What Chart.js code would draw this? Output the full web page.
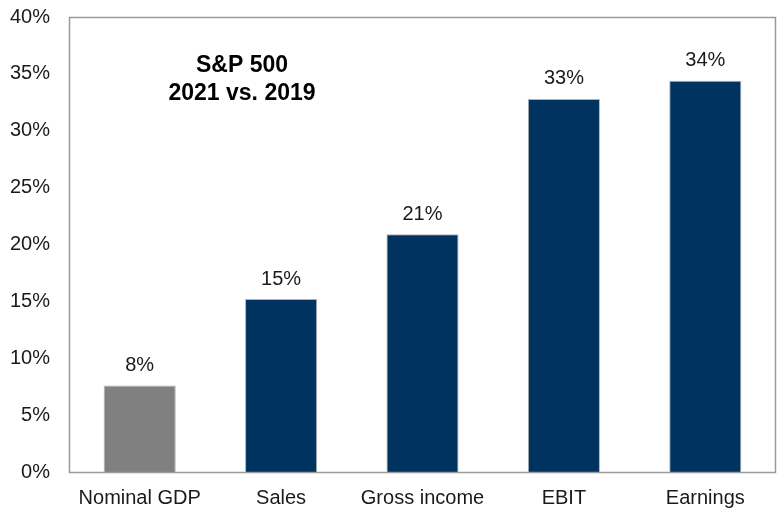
<!DOCTYPE html>
<html>
<head>
<meta charset="utf-8">
<script src="https://cdn.jsdelivr.net/npm/chart.js@4"></script>
<style>
html,body{margin:0;padding:0;background:#fff;}
#wrap{width:777px;height:509px;}
</style>
</head>
<body>
<div id="wrap"><canvas id="c" width="777" height="509"></canvas></div>
<script>
const categories = ['Nominal GDP', 'Sales', 'Gross income', 'EBIT', 'Earnings'];
const values = [7.6, 15.2, 20.9, 32.8, 34.4];
const valueLabels = ['8%', '15%', '21%', '33%', '34%'];
const barColors = ['#808080', '#00335f', '#00335f', '#00335f', '#00335f'];
const titleLines = ['S&P 500', '2021 vs. 2019'];
const yMin = 0, yMax = 40, yStep = 5;

const FONT = '"Liberation Sans", Arial, sans-serif';

const framePlugin = {
  id: 'frame',
  afterDatasetsDraw(chart) {
    const a = chart.chartArea, ctx = chart.ctx;
    ctx.save();
    ctx.strokeStyle = '#9a9a9a';
    ctx.lineWidth = 1.5;
    ctx.strokeRect(a.left + 0.5, a.top + 0.5, a.right - a.left - 1, a.bottom - a.top);
    ctx.restore();
  }
};

const labelPlugin = {
  id: 'valueLabels',
  afterDatasetsDraw(chart) {
    const ctx = chart.ctx;
    const meta = chart.getDatasetMeta(0);
    ctx.save();
    ctx.font = '20px ' + FONT;
    ctx.fillStyle = '#1a1a1a';
    ctx.textAlign = 'center';
    ctx.textBaseline = 'middle';
    meta.data.forEach((bar, i) => {
      ctx.fillText(valueLabels[i], bar.x, bar.y - 20);
    });
    ctx.restore();
  }
};

const titlePlugin = {
  id: 'innerTitle',
  afterDraw(chart) {
    const ctx = chart.ctx;
    ctx.save();
    ctx.font = 'bold 23px ' + FONT;
    ctx.fillStyle = '#000';
    ctx.textAlign = 'center';
    ctx.textBaseline = 'middle';
    ctx.fillText(titleLines[0], 242, 66);
    ctx.fillText(titleLines[1], 242, 94);
    ctx.restore();
  }
};

new Chart(document.getElementById('c'), {
  type: 'bar',
  data: {
    labels: categories,
    datasets: [{
      data: values,
      backgroundColor: barColors,
      borderColor: '#b0b0b0',
      borderWidth: 1,
      barPercentage: 0.51,
      categoryPercentage: 1.0
    }]
  },
  options: {
    responsive: false,
    animation: false,
    devicePixelRatio: 1,
    layout: { padding: { top: 17, right: 1, left: 0, bottom: 0 } },
    plugins: { legend: { display: false }, tooltip: { enabled: false }, title: { display: false } },
    scales: {
      x: {
        grid: { display: false, drawTicks: false },
        border: { display: false },
        ticks: { font: { family: FONT, size: 20 }, color: '#1a1a1a', padding: 14, maxRotation: 0, autoSkip: false },
        afterFit(s) { s.height = 37; s.paddingLeft = 0; s.paddingRight = 0; }
      },
      y: {
        min: yMin, max: yMax,
        grid: { display: false, drawTicks: false },
        border: { display: false },
        ticks: {
          stepSize: yStep,
          font: { family: FONT, size: 20 },
          color: '#1a1a1a',
          padding: 19,
          callback: v => v + '%'
        },
        afterFit(s) { s.width = 69; s.paddingTop = 0; s.paddingBottom = 0; }
      }
    }
  },
  plugins: [framePlugin, labelPlugin, titlePlugin]
});
</script>
</body>
</html>
